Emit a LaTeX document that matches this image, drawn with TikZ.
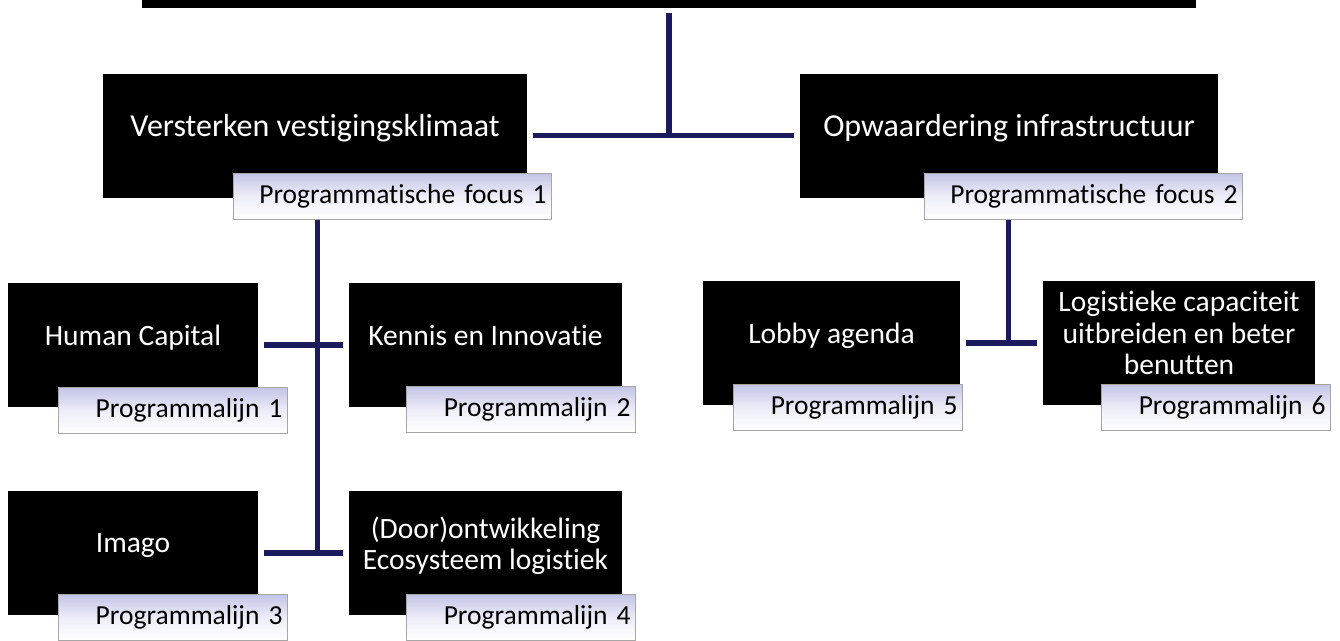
\documentclass[tikz,border=0pt]{standalone}
\usepackage{fontspec}
\setmainfont{Carlito}[Ligatures={NoCommon,NoRare,NoContextual}, RawFeature={-liga,-ccmp}]
\usetikzlibrary{positioning}
\definecolor{navy}{HTML}{1A1A5C}
\definecolor{lavender}{HTML}{C4C4E8}

\begin{document}
\begin{tikzpicture}[x=1pt, y=-1pt,
    box/.style={fill=black, text=white, align=center, inner sep=0pt, minimum height=124pt, text depth=20pt, font=\fontsize{29.5}{31.5}\selectfont},
    big/.style={font=\fontsize{32}{36}\selectfont},
    tag/.style={draw=gray!70, line width=1.2pt, top color=lavender, bottom color=white, middle color=lavender!30!white, anchor=north east, inner sep=0pt, inner xsep=5pt, minimum height=46pt, text width=#1, align=right, font=\fontsize{27.5}{30}\selectfont},
    link/.style={draw=navy, line width=5.5pt}]
    \useasboundingbox (0,0) rectangle (1340,640);

    % Top level
    \node[fill=black, minimum width=1054pt, minimum height=8pt, inner sep=0pt] (root) at (669,4) {};
    \node[box, big, minimum width=424pt] (vk) at (315,135.5) {Versterken vestigingsklimaat};
    \node[box, big, minimum width=418pt] (oi) at (1009,135.5) {Opwaardering infrastructuur};

    % Programme lines
    \node[box, minimum width=250pt] (hc) at (133,345) {Human Capital};
    \node[box, minimum width=273pt] (ki) at (485.5,345) {Kennis en Innovatie};
    \node[box, minimum width=250pt] (im) at (133,553) {Imago};
    \node[box, minimum width=273pt] (eco) at (485.5,553) {(Door)ontwikkeling\\Ecosysteem logistiek};
    \node[box, minimum width=257pt] (lb) at (831.5,343) {Lobby agenda};
    \node[box, minimum width=272pt] (lc) at (1179,343) {Logistieke capaciteit\\uitbreiden en beter\\benutten};

    % Connectors
    \draw[link, shorten <=5pt] (root.south) -- (root.south |- vk.east);
    \draw[link, shorten <=6pt, shorten >=6pt] (vk.east) -- (oi.west);
    \draw[link, shorten <=6pt, shorten >=6pt] (hc.east) -- (ki.west);
    \draw[link, shorten <=6pt, shorten >=6pt] (im.east) -- (eco.west);
    \draw[link, shorten <=6pt, shorten >=6pt] (lb.east) -- (lc.west);

    % Tags
    \node[tag=308pt] (pf1) at ([shift={(25,-25)}]vk.south east) {Programmatische focus 1};
    \node[tag=308pt] (pf2) at ([shift={(25,-25)}]oi.south east) {Programmatische focus 2};
    \node[tag=219pt] (pl1) at ([shift={(30,-20)}]hc.south east) {Programmalijn 1};
    \node[tag=219pt] (pl2) at ([shift={(14,-21)}]ki.south east) {Programmalijn 2};
    \node[tag=219pt] (pl3) at ([shift={(30,-21)}]im.south east) {Programmalijn 3};
    \node[tag=219pt] (pl4) at ([shift={(14,-21)}]eco.south east) {Programmalijn 4};
    \node[tag=219pt] (pl5) at ([shift={(3,-21)}]lb.south east) {Programmalijn 5};
    \node[tag=219pt] (pl6) at ([shift={(16,-21)}]lc.south east) {Programmalijn 6};

    \draw[link] ([xshift=-75pt]pf1.south) -- ([xshift=-75pt]pf1.south |- im.east);
    \draw[link] ([xshift=-75pt]pf2.south) -- ([xshift=-75pt]pf2.south |- lb.east);
\end{tikzpicture}
\end{document}
